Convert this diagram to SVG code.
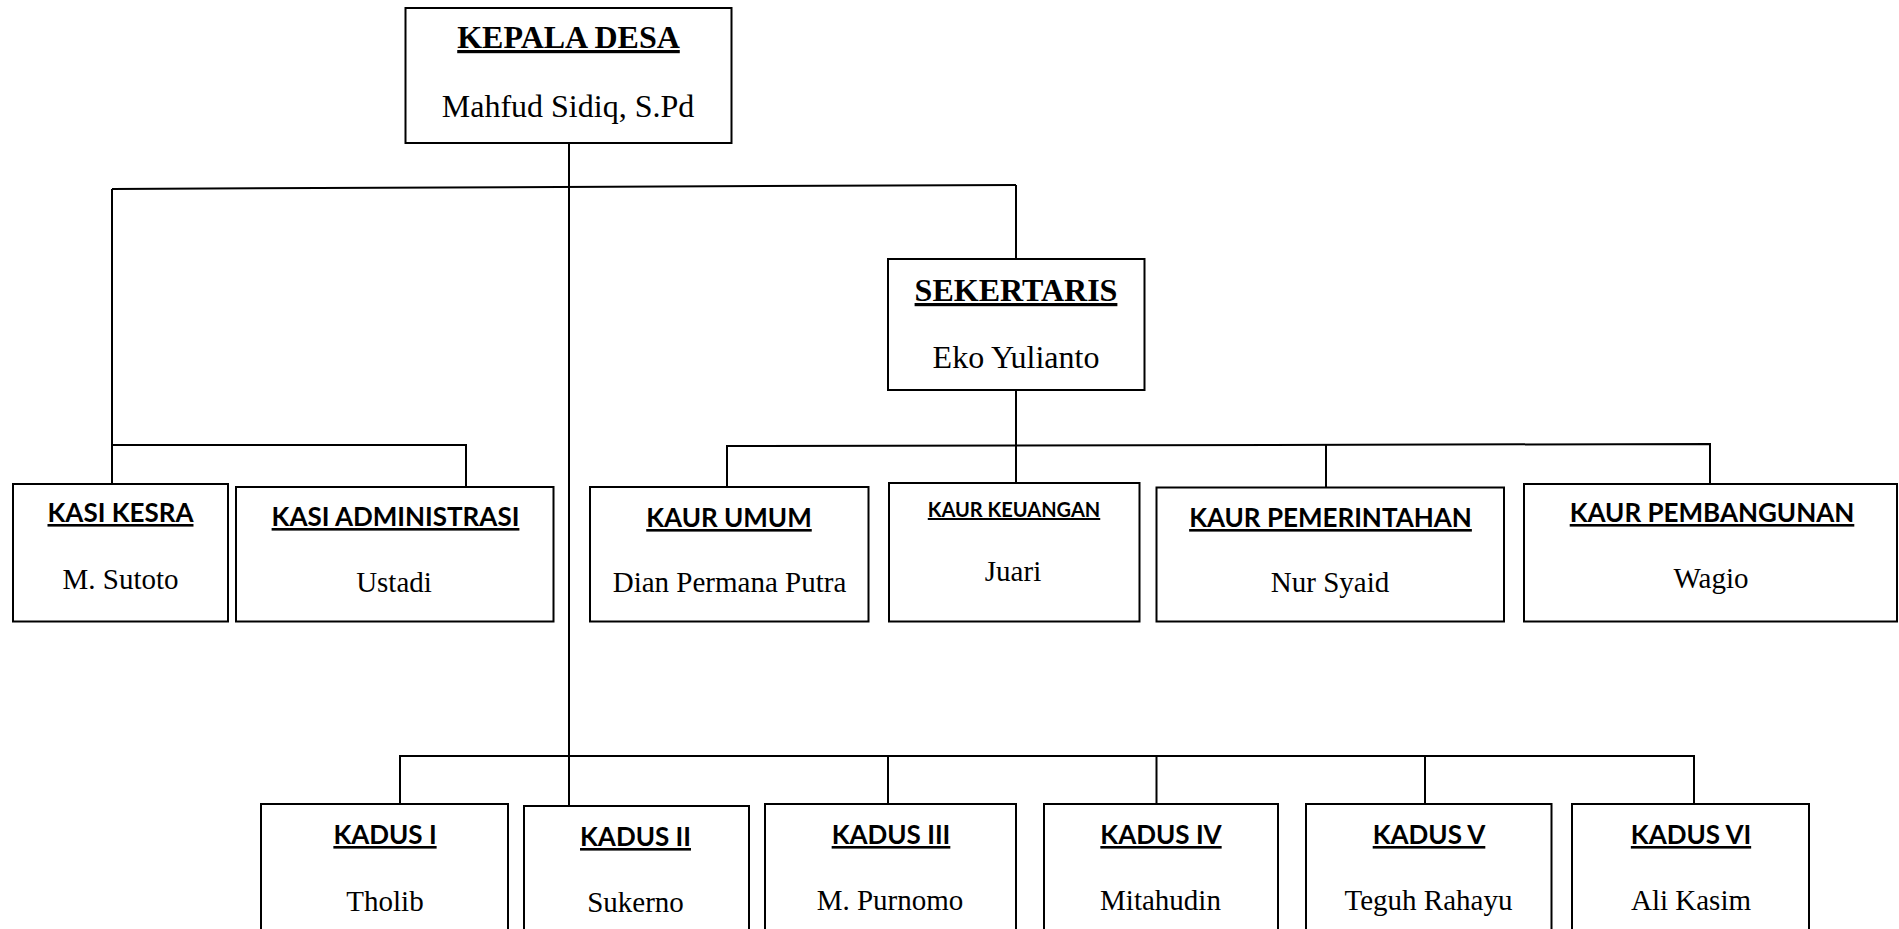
<svg xmlns="http://www.w3.org/2000/svg" width="1899" height="929" viewBox="0 0 1899 929">
<style>
.box{fill:#fff;stroke:#000;stroke-width:2}
.ln{fill:none;stroke:#000;stroke-width:2}
.t1{font-family:"Liberation Serif","Times New Roman",serif;font-weight:bold;font-size:32px;text-decoration:underline;text-anchor:middle;fill:#000}
.n1{font-family:"Liberation Serif","Times New Roman",serif;font-size:32px;text-anchor:middle;fill:#000}
.h{font-family:Lato,"Liberation Sans",sans-serif;font-weight:bold;font-size:26px;text-decoration:underline;text-anchor:middle;fill:#000}
.hs{font-size:20px}
.n{font-family:"Liberation Serif","Times New Roman",serif;font-size:29px;text-anchor:middle;fill:#000}
</style>
<rect width="1899" height="929" fill="#fff"/>
<g id="connectors">
<path class="ln" d="M569 143 V806"/>
<path class="ln" d="M112 189 L1016 185"/>
<path class="ln" d="M112 189 V484"/>
<path class="ln" d="M112 445 H466 V487"/>
<path class="ln" d="M1016 185 V259"/>
<path class="ln" d="M1016 390 V483"/>
<path class="ln" d="M727 487 V446 L1710 444 V484"/>
<path class="ln" d="M1326 445 V487"/>
<path class="ln" d="M400 804 V756 H1694 V804"/>
<path class="ln" d="M888 756 V804"/>
<path class="ln" d="M1156.5 756 V804"/>
<path class="ln" d="M1425 756 V804"/>
</g>
<g id="kepala-desa">
<rect class="box" x="405.5" y="8" width="326" height="135"/>
<text class="t1" x="568.5" y="48">KEPALA DESA</text>
<text class="n1" x="568" y="117">Mahfud Sidiq, S.Pd</text>
</g>
<g id="sekertaris">
<rect class="box" x="888" y="259" width="256.5" height="131"/>
<text class="t1" x="1016" y="301">SEKERTARIS</text>
<text class="n1" x="1016" y="368">Eko Yulianto</text>
</g>
<g id="kasi-kesra">
<rect class="box" x="13" y="484" width="215" height="137.5"/>
<text class="h" x="120.5" y="522">KASI KESRA</text>
<text class="n" x="120.5" y="589">M. Sutoto</text>
</g>
<g id="kasi-administrasi">
<rect class="box" x="236" y="487" width="317.5" height="134.5"/>
<text class="h" x="395.5" y="526">KASI ADMINISTRASI</text>
<text class="n" x="394" y="592">Ustadi</text>
</g>
<g id="kaur-umum">
<rect class="box" x="590" y="487" width="278.5" height="134.5"/>
<text class="h" x="729" y="527">KAUR UMUM</text>
<text class="n" x="729.5" y="592">Dian Permana Putra</text>
</g>
<g id="kaur-keuangan">
<rect class="box" x="889" y="483" width="250.5" height="138.5"/>
<text class="h hs" x="1014" y="517">KAUR KEUANGAN</text>
<text class="n" x="1013" y="581">Juari</text>
</g>
<g id="kaur-pemerintahan">
<rect class="box" x="1156.5" y="487.5" width="347.5" height="134"/>
<text class="h" x="1330.5" y="527">KAUR PEMERINTAHAN</text>
<text class="n" x="1330" y="592">Nur Syaid</text>
</g>
<g id="kaur-pembangunan">
<rect class="box" x="1524" y="484" width="373" height="137.5"/>
<text class="h" x="1712" y="522">KAUR PEMBANGUNAN</text>
<text class="n" x="1711" y="588">Wagio</text>
</g>
<g id="kadus-1">
<rect class="box" x="261" y="804" width="247" height="140"/>
<text class="h" x="385" y="844">KADUS I</text>
<text class="n" x="385" y="911">Tholib</text>
</g>
<g id="kadus-2">
<rect class="box" x="524" y="806" width="225" height="140"/>
<text class="h" x="635.5" y="846">KADUS II</text>
<text class="n" x="635.5" y="912">Sukerno</text>
</g>
<g id="kadus-3">
<rect class="box" x="765" y="804" width="251" height="140"/>
<text class="h" x="891" y="844">KADUS III</text>
<text class="n" x="890" y="910">M. Purnomo</text>
</g>
<g id="kadus-4">
<rect class="box" x="1044" y="804" width="234" height="140"/>
<text class="h" x="1161" y="844">KADUS IV</text>
<text class="n" x="1160.5" y="910">Mitahudin</text>
</g>
<g id="kadus-5">
<rect class="box" x="1306" y="804" width="245.5" height="140"/>
<text class="h" x="1429" y="844">KADUS V</text>
<text class="n" x="1428.5" y="910">Teguh Rahayu</text>
</g>
<g id="kadus-6">
<rect class="box" x="1572" y="804" width="237" height="140"/>
<text class="h" x="1691" y="844">KADUS VI</text>
<text class="n" x="1691" y="910">Ali Kasim</text>
</g>
</svg>
